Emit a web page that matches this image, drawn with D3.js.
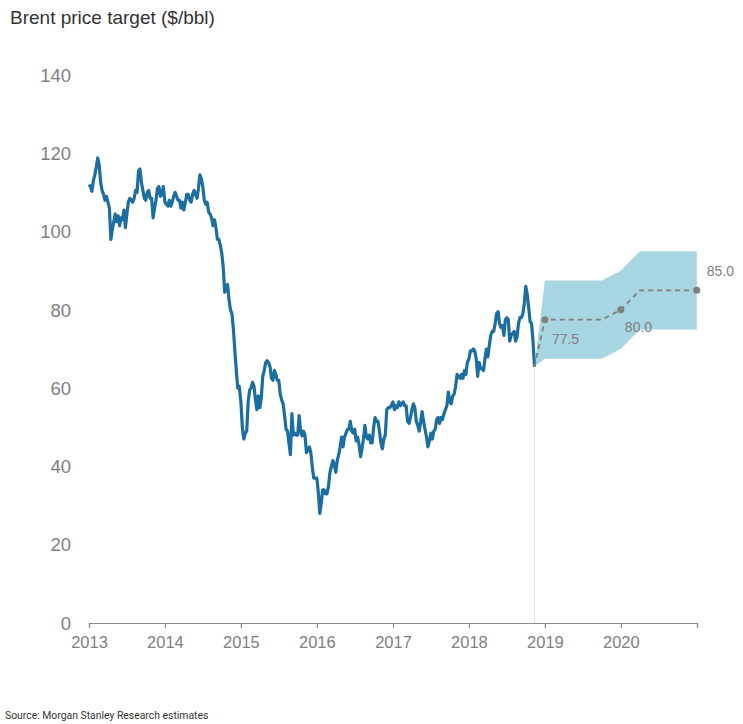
<!DOCTYPE html>
<html>
<head>
<meta charset="utf-8">
<script src="https://cdn.jsdelivr.net/npm/d3@7"></script>
<style>
  html, body { margin: 0; padding: 0; background: #fff; }
  svg { display: block; }
</style>
</head>
<body>
<svg id="chart" width="743" height="724"></svg>
<script>
// ---- Data (weekly Brent closes; week i of a year = Jan 1 + 7*i days) ----
const brent2013 = [112.0,111.5,110.3,113.0,114.5,116.5,118.8,117.0,112.5,110.5,109.5,108.0,109.0,107.5,106.0,98.0,100.5,102.5,104.5,102.5,104.0,101.5,103.5,103.0,105.5,101.0,104.5,107.5,108.5,108.0,107.5,108.5,110.5,110.0,115.5,116.0,112.5,110.5,108.5,108.0,110.0,110.5,108.5,108.5,103.5,106.0,108.0,111.0,111.5,109.0,109.5,111.5];
const brent2014 = [107.5,107.0,106.5,108.0,106.5,107.5,109.0,110.0,109.0,108.0,108.0,106.0,107.5,105.5,107.5,109.5,109.5,108.0,107.5,109.5,110.5,109.5,108.5,111.0,114.5,113.5,111.5,108.0,107.0,107.5,105.0,104.5,103.5,101.5,103.0,101.0,98.0,98.0,96.5,94.5,91.0,84.5,86.0,86.5,82.5,80.0,79.0,75.0,69.5,64.5,60.0,60.5];
const brent2015 = [56.5,50.0,47.0,48.5,49.0,56.5,59.5,60.0,61.5,60.5,57.0,54.5,58.0,55.0,57.5,63.0,64.5,66.5,67.0,66.5,65.5,62.5,62.0,64.5,63.5,62.0,62.0,58.5,57.0,56.0,53.0,49.5,49.0,46.0,43.0,53.5,48.0,48.5,48.0,48.0,53.0,49.0,47.8,49.0,48.0,43.5,44.5,45.0,43.5,40.0,37.0,37.0];
const brent2016 = [37.0,33.5,28.0,30.5,34.0,34.0,33.0,33.0,35.0,38.5,40.0,41.5,40.5,38.5,41.5,43.0,45.0,47.5,45.0,47.5,48.5,49.5,49.5,51.5,49.0,48.5,49.5,46.5,47.5,45.5,42.5,44.5,47.0,50.5,47.5,47.0,48.0,46.0,46.0,50.0,52.5,51.5,51.5,49.0,46.0,44.5,47.0,48.0,54.5,55.0,55.0,55.5];
const brent2017 = [56.5,54.5,55.5,55.0,56.5,55.5,56.0,56.5,55.5,55.5,51.5,51.0,52.5,54.5,56.0,55.0,51.5,50.5,49.0,51.5,54.0,51.5,49.5,47.5,45.0,46.5,48.5,47.0,49.0,49.5,52.0,52.5,51.0,52.5,52.0,53.5,54.5,55.5,59.0,56.5,56.0,58.0,58.5,60.5,63.5,63.0,62.5,63.5,62.5,64.5,63.5,66.5];
const brent2018 = [67.5,69.5,69.5,70.0,69.5,67.5,63.0,66.5,65.0,65.0,64.5,67.5,70.0,68.0,71.0,73.5,74.5,74.5,76.5,79.0,79.5,76.5,75.5,76.0,73.5,77.5,78.0,77.5,72.0,73.5,74.0,74.5,72.0,73.0,76.5,78.0,78.0,79.0,81.5,86.0,84.0,80.5,77.0,76.5,72.0,65.5];
const historyYears = [2013, 2014, 2015, 2016, 2017, 2018];

const forecastDates = ["2019-01-01","2019-04-01","2019-07-01","2019-10-01","2020-01-01","2020-04-01","2020-07-01","2020-10-01","2020-12-31"];
const baseCase = [77.5,77.5,77.5,77.5,80.0,85.0,85.0,85.0,85.0];
const bandHigh = [87.5,87.5,87.5,87.5,90.0,95.0,95.0,95.0,95.0];
const bandLow  = [67.5,67.5,67.5,67.5,70.0,75.0,75.0,75.0,75.0];
const labeledIdx = [0, 4, 8];

const yTicks = [0,20,40,60,80,100,120,140];
const xTickYears = [2013,2014,2015,2016,2017,2018,2019,2020,2021];
const xLabelYears = [2013,2014,2015,2016,2017,2018,2019,2020];

const titleText = "Brent price target ($/bbl)";
const sourceText = "Source: Morgan Stanley Research estimates";

// ---- Build series ----
const yearArrays = [brent2013, brent2014, brent2015, brent2016, brent2017, brent2018];
const history = [];
yearArrays.forEach((arr, k) => {
  arr.forEach((v, i) => {
    history.push({ date: d3.timeDay.offset(new Date(historyYears[k], 0, 1), 7 * i), value: v });
  });
});
const last = history[history.length - 1];
const parse = d3.timeParse("%Y-%m-%d");
const forecast = [{ date: last.date, base: last.value, hi: last.value, lo: last.value }]
  .concat(forecastDates.map((d, i) => ({ date: parse(d), base: baseCase[i], hi: bandHigh[i], lo: bandLow[i] })));

// ---- Scales ----
const x = d3.scaleTime().domain([new Date(2013,0,1), new Date(2021,0,1)]).range([89, 697]);
const y = d3.scaleLinear().domain([0, 140]).range([623, 75]);

const svg = d3.select("#chart");
const font = "'Liberation Sans', Arial, Helvetica, sans-serif";

// Title
svg.append("text").attr("x", 10).attr("y", 24)
  .attr("font-family", font).attr("font-size", 19).attr("fill", "#333")
  .text(titleText);

// Y labels
svg.append("g").selectAll("text").data(yTicks).join("text")
  .attr("x", 71).attr("y", d => y(d)).attr("dy", "0.36em")
  .attr("text-anchor", "end")
  .attr("font-family", font).attr("font-size", 18.5).attr("fill", "#7f7f7f")
  .text(d => d);

// Vertical marker at last actual
svg.append("line")
  .attr("x1", x(last.date)).attr("x2", x(last.date))
  .attr("y1", y(last.value)).attr("y2", y(0))
  .attr("stroke", "#dde9ef").attr("stroke-width", 1);

// Band
svg.append("path").datum(forecast)
  .attr("d", d3.area().x(d => x(d.date)).y0(d => y(d.lo)).y1(d => y(d.hi)))
  .attr("fill", "#a7d5e1");

// History line
svg.append("path").datum(history)
  .attr("d", d3.line().x(d => x(d.date)).y(d => y(d.value)))
  .attr("fill", "none").attr("stroke", "#1b6e9f").attr("stroke-width", 3.2)
  .attr("stroke-linejoin", "round");

// Dashed base case
svg.append("path").datum(forecast)
  .attr("d", d3.line().x(d => x(d.date)).y(d => y(d.base)))
  .attr("fill", "none").attr("stroke", "#7f7f7f").attr("stroke-width", 1.8)
  .attr("stroke-dasharray", "5,4");

const labeled = labeledIdx.map(i => forecast[i + 1]);
svg.append("g").selectAll("circle").data(labeled).join("circle")
  .attr("cx", d => x(d.date)).attr("cy", d => y(d.base)).attr("r", 3.5)
  .attr("fill", "#7f7f7f");

const labelOffsets = [[7, 24], [4, 22], [10, -14]];
svg.append("g").selectAll("text").data(labeled).join("text")
  .attr("x", (d, i) => x(d.date) + labelOffsets[i][0])
  .attr("y", (d, i) => y(d.base) + labelOffsets[i][1])
  .attr("font-family", font).attr("font-size", 14).attr("fill", "#7f7f7f")
  .text(d => d3.format(".1f")(d.base));

// X axis
const xAxis = d3.axisBottom(x)
  .tickValues(xTickYears.map(yr => new Date(yr, 0, 1)))
  .tickSize(5)
  .tickFormat(d => xLabelYears.includes(d.getFullYear()) ? d.getFullYear() : "");
const gx = svg.append("g").attr("transform", `translate(0,${y(0)})`).call(xAxis);
gx.select(".domain").attr("stroke", "#8a8a8a").attr("stroke-width", 1.2);
gx.selectAll(".tick line").attr("stroke", "#8a8a8a").attr("stroke-width", 1.2);
gx.selectAll(".tick text")
  .attr("font-family", font).attr("font-size", 16.5).attr("fill", "#7f7f7f")
  .attr("dy", 0).attr("y", 25);

// Source
svg.append("text").attr("x", 5).attr("y", 719)
  .attr("font-family", "Roboto, 'Liberation Sans', sans-serif").attr("font-size", 10.4).attr("fill", "#333")
  .text(sourceText);
</script>
</body>
</html>
